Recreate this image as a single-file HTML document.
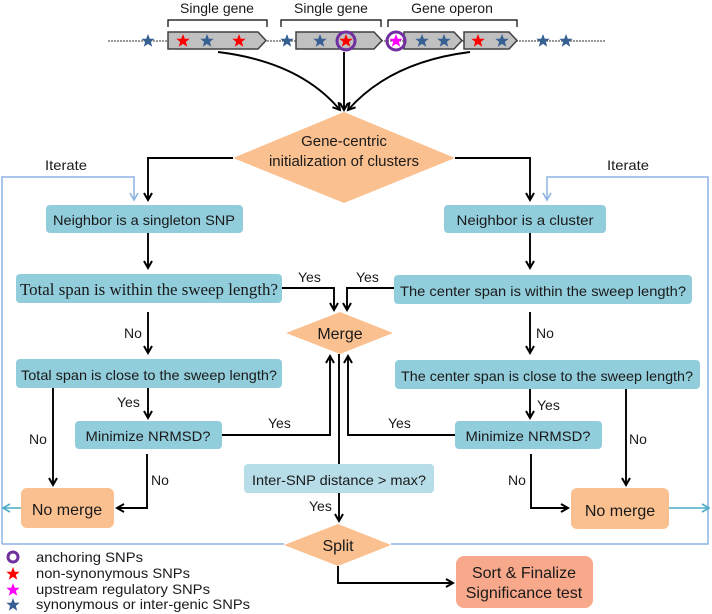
<!DOCTYPE html>
<html><head><meta charset="utf-8"><style>
html,body{margin:0;padding:0;background:#fff;}
svg{display:block;font-family:"Liberation Sans",Arial,sans-serif;}
.t{font-size:14px;fill:#1a1a1a;}
.s{font-size:14px;fill:#1a1a1a;}
.k{stroke:#000;stroke-width:1.9;fill:none;}
.b{stroke:#8db3e2;stroke-width:1.5;fill:none;}
</style></head><body>
<svg width="712" height="614" viewBox="0 0 712 614" xmlns="http://www.w3.org/2000/svg">
<defs>
<polygon id="st" points="0,-7 1.8,-2.3 6.7,-2.2 2.9,0.9 4.2,5.7 0,2.9 -4.2,5.7 -2.9,0.9 -6.7,-2.2 -1.8,-2.3"/>
<marker id="ah" markerWidth="10" markerHeight="10" refX="8" refY="5" orient="auto" markerUnits="userSpaceOnUse"><path d="M1,1 L8,5 L1,9" fill="none" stroke="#000" stroke-width="2"/></marker>
<marker id="bh" markerWidth="10" markerHeight="10" refX="8" refY="5" orient="auto" markerUnits="userSpaceOnUse"><path d="M1,1 L8,5 L1,9" fill="none" stroke="#8db3e2" stroke-width="1.6"/></marker>
<marker id="ch" markerWidth="10" markerHeight="10" refX="8" refY="5" orient="auto" markerUnits="userSpaceOnUse"><path d="M1,1 L8,5 L1,9" fill="none" stroke="#4bacc6" stroke-width="1.6"/></marker>
</defs>

<line x1="108" y1="41" x2="606" y2="41" stroke="#333" stroke-width="1" stroke-dasharray="2,1"/>
<g fill="#c0c0c0" stroke="#404040" stroke-width="1.5">
<polygon points="168,32 258,32 266,40.5 258,49 168,49"/>
<polygon points="296,32 374,32 382,40.5 374,49 296,49"/>
<polygon points="404,32 454,32 462,40.5 454,49 404,49"/>
<polygon points="464,32 509,32 517,40.5 509,49 464,49"/>
</g>
<g fill="none" stroke="#000" stroke-width="1.2">
<path d="M168,27 V20 H267 V27"/><path d="M281,27 V20 H381 V27"/><path d="M388,27 V20 H517 V27"/>
</g>
<text class="t" x="217" y="13" text-anchor="middle">Single gene</text>
<text class="t" x="331" y="13" text-anchor="middle">Single gene</text>
<text class="t" x="452" y="13" text-anchor="middle">Gene operon</text>
<g fill="#376092">
<use href="#st" x="148" y="41"/><use href="#st" x="207" y="41"/><use href="#st" x="287" y="41"/><use href="#st" x="320" y="41"/>
<use href="#st" x="422" y="41"/><use href="#st" x="444" y="41"/><use href="#st" x="502" y="41"/><use href="#st" x="543" y="41"/><use href="#st" x="566" y="41"/>
</g>
<g fill="#ff0000"><use href="#st" x="183" y="41"/><use href="#st" x="239" y="41"/><use href="#st" x="346" y="41"/><use href="#st" x="478" y="41"/></g>
<use href="#st" x="396" y="41" fill="#ff00ff"/>
<circle cx="346" cy="41" r="9" fill="none" stroke="#7030a0" stroke-width="3"/>
<circle cx="396" cy="41" r="9" fill="none" stroke="#7030a0" stroke-width="3"/>
<path class="k" d="M218,52 Q300,62 340,110" marker-end="url(#ah)"/>
<path class="k" d="M344,52 V110" marker-end="url(#ah)"/>
<path class="k" d="M470,52 Q390,62 348,110" marker-end="url(#ah)"/>

<polygon points="344,112 455,158 344,203 233,158" fill="#fac090"/>
<text x="344" y="146" text-anchor="middle" font-size="15" fill="#1a1a1a">Gene-centric</text>
<text x="344" y="166" text-anchor="middle" font-size="15" fill="#1a1a1a">initialization of clusters</text>
<path class="k" d="M233,158 H148 V200" marker-end="url(#ah)"/>
<path class="k" d="M455,158 H530 V200" marker-end="url(#ah)"/>

<path class="b" d="M2,544 V177 H134 V200" marker-end="url(#bh)"/>
<path class="b" d="M284,544 H2"/>
<path class="b" d="M391,544 H708 V177 H547 V200" marker-end="url(#bh)"/>
<text class="s" x="45" y="170" textLength="42" lengthAdjust="spacingAndGlyphs">Iterate</text>
<text class="s" x="607" y="170" textLength="42" lengthAdjust="spacingAndGlyphs">Iterate</text>

<g fill="#92cddc">
<rect x="46" y="205" width="197" height="28" rx="4"/>
<rect x="444" y="205" width="162" height="28" rx="4"/>
<rect x="16" y="274" width="266" height="29" rx="4"/>
<rect x="394" y="275" width="298" height="29" rx="4"/>
<rect x="16" y="359" width="266" height="29" rx="4"/>
<rect x="395" y="360" width="305" height="29" rx="4"/>
<rect x="75" y="421" width="147" height="28" rx="4"/>
<rect x="455" y="421" width="147" height="28" rx="4"/>
</g>
<rect x="244" y="464" width="190" height="29" rx="4" fill="#b7dee8"/>
<text class="t" x="144" y="225" text-anchor="middle" font-size="15" textLength="182" lengthAdjust="spacingAndGlyphs">Neighbor is a singleton SNP</text>
<text class="t" x="525" y="225" text-anchor="middle" font-size="15" textLength="137" lengthAdjust="spacingAndGlyphs">Neighbor is a cluster</text>
<text x="149" y="295" text-anchor="middle" font-family="'Liberation Serif',serif" font-size="17" fill="#1a1a1a" textLength="258" lengthAdjust="spacingAndGlyphs">Total span is within the sweep length?</text>
<text class="t" x="543" y="296" text-anchor="middle" font-size="15" textLength="286" lengthAdjust="spacingAndGlyphs">The center span is within the sweep length?</text>
<text class="t" x="149" y="380" text-anchor="middle" font-size="15" textLength="256" lengthAdjust="spacingAndGlyphs">Total span is close to the sweep length?</text>
<text class="t" x="547" y="381" text-anchor="middle" font-size="15" textLength="292" lengthAdjust="spacingAndGlyphs">The center span is close to the sweep length?</text>
<text class="t" x="148" y="441" text-anchor="middle" font-size="15" textLength="125" lengthAdjust="spacingAndGlyphs">Minimize NRMSD?</text>
<text class="t" x="528" y="441" text-anchor="middle" font-size="15" textLength="125" lengthAdjust="spacingAndGlyphs">Minimize NRMSD?</text>
<text class="t" x="339" y="485" text-anchor="middle" font-size="15" textLength="174" lengthAdjust="spacingAndGlyphs">Inter-SNP distance &gt; max?</text>

<polygon points="340,312 393,333 340,354 286,333" fill="#fac090"/>
<text x="340" y="339" text-anchor="middle" font-size="16" fill="#1a1a1a">Merge</text>
<path class="k" d="M282,288 H334 V310" marker-end="url(#ah)"/>
<path class="k" d="M394,288 H347 V310" marker-end="url(#ah)"/>
<text class="s" x="298" y="282">Yes</text>
<text class="s" x="356" y="282">Yes</text>
<path class="k" d="M148,233 V268" marker-end="url(#ah)"/>
<path class="k" d="M530,233 V268" marker-end="url(#ah)"/>
<path class="k" d="M148,312 V353" marker-end="url(#ah)"/>
<text class="s" x="124" y="338">No</text>
<path class="k" d="M530,312 V353" marker-end="url(#ah)"/>
<text class="s" x="536" y="338">No</text>

<path class="k" d="M148,388 V418" marker-end="url(#ah)"/>
<text class="s" x="117" y="407">Yes</text>
<path class="k" d="M530,389 V418" marker-end="url(#ah)"/>
<text class="s" x="537" y="410">Yes</text>
<path class="k" d="M222,435 H330 V356" marker-end="url(#ah)"/>
<text class="s" x="268" y="428">Yes</text>
<path class="k" d="M455,435 H348 V356" marker-end="url(#ah)"/>
<text class="s" x="388" y="428">Yes</text>
<path class="k" d="M339,354 V464"/>
<path class="k" d="M339,493 V521" marker-end="url(#ah)"/>
<text class="s" x="309" y="511">Yes</text>

<rect x="21" y="488" width="93" height="40" rx="6" fill="#fac090"/>
<rect x="571" y="488" width="98" height="41" rx="6" fill="#fac090"/>
<text x="67" y="515" text-anchor="middle" font-size="16" fill="#1a1a1a">No merge</text>
<text x="620" y="516" text-anchor="middle" font-size="16" fill="#1a1a1a">No merge</text>
<path class="k" d="M53,388 V485" marker-end="url(#ah)"/>
<text class="s" x="29" y="444">No</text>
<path class="k" d="M147,454 V508 H117" marker-end="url(#ah)"/>
<text class="s" x="151" y="485">No</text>
<path class="k" d="M626,389 V485" marker-end="url(#ah)"/>
<text class="s" x="629" y="444">No</text>
<path class="k" d="M531,454 V508 H568" marker-end="url(#ah)"/>
<text class="s" x="508" y="485">No</text>
<path d="M21,508 H3" stroke="#4bacc6" stroke-width="1.5" marker-end="url(#ch)"/>
<path d="M669,508 H709" stroke="#4bacc6" stroke-width="1.5" marker-end="url(#ch)"/>

<polygon points="338,524 391,545 338,566 284,545" fill="#fac090"/>
<text x="338" y="551" text-anchor="middle" font-size="16" fill="#1a1a1a">Split</text>
<path class="k" d="M338,566 V583 H453" marker-end="url(#ah)"/>
<rect x="456" y="556" width="137" height="52" rx="8" fill="#f8a98b"/>
<text x="524" y="578" text-anchor="middle" font-size="16" fill="#1a1a1a">Sort &amp; Finalize</text>
<text x="524" y="598" text-anchor="middle" font-size="16" fill="#1a1a1a">Significance test</text>

<circle cx="13" cy="557" r="5" fill="none" stroke="#7030a0" stroke-width="3"/>
<use href="#st" x="13" y="574" fill="#ff0000"/>
<use href="#st" x="13" y="590" fill="#ff00ff"/>
<use href="#st" x="13" y="605" fill="#376092"/>
<text class="s" x="36" y="562" textLength="107" lengthAdjust="spacingAndGlyphs">anchoring SNPs</text>
<text class="s" x="36" y="578" textLength="154" lengthAdjust="spacingAndGlyphs">non-synonymous SNPs</text>
<text class="s" x="36" y="594" textLength="174" lengthAdjust="spacingAndGlyphs">upstream regulatory SNPs</text>
<text class="s" x="36" y="609" textLength="214" lengthAdjust="spacingAndGlyphs">synonymous or inter-genic SNPs</text>
</svg>
</body></html>
